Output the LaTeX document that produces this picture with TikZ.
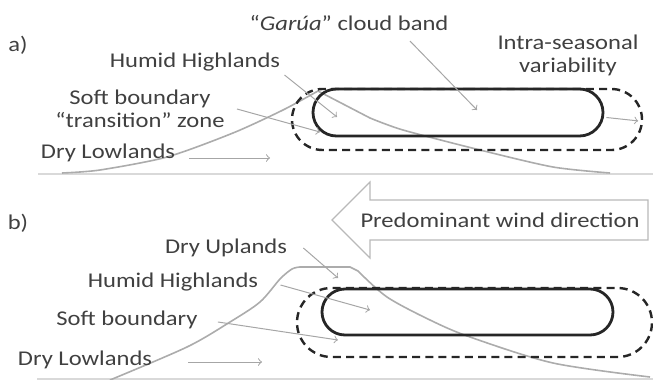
\documentclass[tikz,border=0pt]{standalone}
\usepackage{fontspec}
\setmainfont{Carlito}[FakeStretch=1.17]
\usetikzlibrary{shapes.misc}

\tikzstyle{region-text} = [text=black!75, inner sep=1pt, align=center, font=\fontsize{10.5}{11.5}\selectfont]
\tikzstyle{pointer} = [draw=gray!70, line width=0.5pt]
\tikzstyle{terrain} = [draw=gray!65, line width=0.8pt]
\tikzstyle{ground} = [draw=gray!30, line width=0.9pt]
\tikzstyle{cloud-band} = [draw=black!85, rounded rectangle, line width=1.4pt, inner sep=0pt]
\tikzstyle{cloud-range} = [cloud-band, line width=1.2pt, dash pattern=on 4pt off 2.6pt]
\tikzstyle{wind-arrow} = [draw=gray!55, line width=0.6pt, fill=white]

\begin{document}
\begin{tikzpicture}[x=0.5pt, y=-0.5pt]
	\useasboundingbox (0,0) rectangle (653,380);

	% a) rainy season
	\draw [ground] (38,174) -- (653,174);
	\draw [terrain] plot [smooth, tension=0.45] coordinates {(62,173) (100,170) (167,157) (233,133) (283,110) (318,91)}
		-- plot [smooth, tension=0.45] coordinates {(370,118) (403,130) (480,150) (553,167) (610,173)};

	\node [cloud-range, minimum width=175pt, minimum height=30.5pt] (range-a) at (467,119.5) {};
	\node [cloud-band, minimum width=145pt, minimum height=23.5pt] (band-a) at (458,112.5) {};

	\node [region-text] (a-mark) at (18,45) {a)};
	\node [region-text] (garua-text) at (349,23) {``\textit{Garúa}'' cloud band};
	\node [region-text] (intra-text) at (568,55) {Intra-seasonal\\variability};
	\node [region-text] (humid-a) at (195,62) {Humid Highlands};
	\node [region-text] (soft-a) at (140,109) {Soft boundary\\``transition'' zone};
	\node [region-text] (dry-a) at (108,153) {Dry Lowlands};

	\coordinate (garua-tip) at (477,110);
	\coordinate (humid-a-tip) at (337,117);
	\coordinate (soft-a-tip) at (320,132);
	\coordinate (dry-a-tip) at (270,158);

	\draw [pointer] [->] ([xshift=30.5pt,yshift=-4pt]garua-text.south) -- (garua-tip);
	\draw [pointer] [->] ([xshift=1pt,yshift=-6.5pt]humid-a.east) -- (humid-a-tip);
	\draw [pointer] [->] ([xshift=5pt]soft-a.east) -- (soft-a-tip);
	\draw [pointer] [->] ([xshift=6pt,yshift=-2.5pt]dry-a.east) -- (dry-a-tip);
	\draw [pointer] [->] ([xshift=1pt,yshift=-2.5pt]band-a.east) -- ([xshift=-2.5pt,yshift=-0.7pt]range-a.east);

	% b) dry season
	\draw [ground] (37,379) -- (653,379);
	\draw [terrain] plot [smooth, tension=0.5] coordinates {(110,380) (187,347) (230,322) (260,302) (280,279) (292,269) (300,267)}
		-- (350,267) -- plot [smooth, tension=0.5] coordinates {(358,271) (387,297) (430,320) (470,337) (553,363) (650,377)};

	\node [cloud-range, minimum width=177.5pt, minimum height=34.5pt] (range-b) at (474.5,322.5) {};
	\node [cloud-band, minimum width=145.5pt, minimum height=23pt] (band-b) at (467.5,312) {};

	\draw [wind-arrow] (332,220) -- (370,182) -- (370,200) -- (648,200) -- (648,240) -- (370,240) -- (370,258) -- cycle;
	\node [region-text] (wind-text) at (500,220) {Predominant wind direction};

	\node [region-text] (b-mark) at (18,223) {b)};
	\node [region-text] (uplands-b) at (226,248) {Dry Uplands};
	\node [region-text] (humid-b) at (173,282) {Humid Highlands};
	\node [region-text] (soft-b) at (127,320) {Soft boundary};
	\node [region-text] (dry-b) at (85,360) {Dry Lowlands};

	\coordinate (uplands-b-tip) at (338,278);
	\coordinate (humid-b-tip) at (370,310);
	\coordinate (soft-b-tip) at (338,340);
	\coordinate (dry-b-tip) at (262,362);

	\draw [pointer] [->] ([xshift=7pt]uplands-b.east) -- (uplands-b-tip);
	\draw [pointer] [->] ([xshift=10pt,yshift=-1.5pt]humid-b.east) -- (humid-b-tip);
	\draw [pointer] [->] ([xshift=9pt,yshift=-1pt]soft-b.east) -- (soft-b-tip);
	\draw [pointer] [->] ([xshift=17pt,yshift=-1pt]dry-b.east) -- (dry-b-tip);

\end{tikzpicture}
\end{document}
